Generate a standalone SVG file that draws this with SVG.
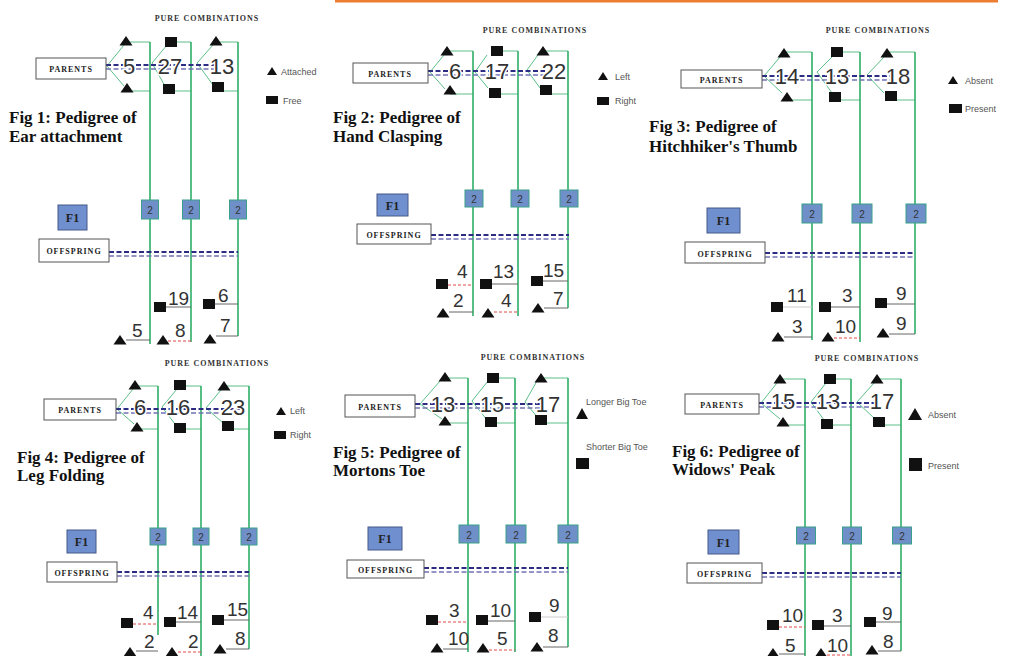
<svg xmlns="http://www.w3.org/2000/svg" xmlns:xlink="http://www.w3.org/1999/xlink" width="1014" height="656" viewBox="0 0 1014 656">
<style>
.g{stroke:#2fae68;stroke-width:1.6;fill:none}
.gt{stroke:#5cbf8a;stroke-width:1;fill:none}
.d1{stroke:#2c2c84;stroke-width:2;stroke-dasharray:5 2.5;fill:none}
.d2{stroke:#7272b4;stroke-width:1.6;stroke-dasharray:5 2.5;fill:none}
.box{fill:#fff;stroke:#555;stroke-width:1}
.lbl{font-family:"Liberation Serif",serif;font-weight:bold;font-size:8px;letter-spacing:1px;text-anchor:middle;fill:#222}
.pc{font-family:"Liberation Serif",serif;font-weight:bold;font-size:8px;letter-spacing:1px;text-anchor:middle;fill:#333}
.num{font-family:"Liberation Sans Narrow","Liberation Sans",sans-serif;font-size:22px;fill:#333;text-anchor:middle;stroke:#fff;stroke-width:3;paint-order:stroke}
.onum{font-family:"Liberation Sans Narrow","Liberation Sans",sans-serif;font-size:19px;fill:#333}
.fig{font-family:"Liberation Serif",serif;font-weight:bold;font-size:17px;fill:#111}
.leg{font-family:"Liberation Sans",sans-serif;font-size:9px;fill:#555}
.two{fill:#6f8fc9;stroke:#3aa08a;stroke-width:1}
.twot{font-family:"Liberation Sans",sans-serif;font-size:10px;fill:#333;text-anchor:middle}
.f1{fill:#6f8fcf;stroke:#46588a;stroke-width:1}
.f1t{font-family:"Liberation Serif",serif;font-weight:bold;font-size:12px;fill:#222;text-anchor:middle}
.ol{stroke:#666;stroke-width:1;fill:none}
.ll{stroke:#ccc;stroke-width:1;fill:none}
.rl{stroke:#e04848;stroke-width:1;stroke-dasharray:3 2;fill:none}
.blk{fill:#111}
</style>
<defs>
<path id="tri" d="M-6.5,4.5 L0,-5 L6.5,4.5Z" fill="#111"/>
<rect id="sq" x="-6" y="-5" width="12" height="10" fill="#111"/>
</defs>
<rect width="1014" height="656" fill="#fff"/>
<rect x="335" y="0" width="663" height="2.5" fill="#ed7d31"/>

<!-- ================= FIG 1 ================= -->
<g id="fig1-connectors">
<path class="gt" d="M126,42 H150 M171,42 H191 M216,42 H238"/>
<path class="gt" d="M127,91 H150 M169,91 H191 M218,91 H238"/>
<path class="gt" d="M124,45 L107,66 L124,86 M167,45 L152,63 L165,86 M213,45 L197,63 L213,85"/>
<path class="g" d="M150,42 V344 M191,42 V342 M238,42 V336"/>
<path class="d1" d="M106,65 H215"/><path class="d2" d="M106,69 H215"/>
<path class="d1" d="M109,252 H238"/><path class="d2" d="M109,256 H238"/>
<path class="ol" d="M166,307 H191 M126,340 H150 M215,304 H238 M216,336 H238"/>
<path class="rl" d="M168,341 H191"/>
</g>
<g id="fig1-title"><text class="pc" x="207" y="21">PURE COMBINATIONS</text>
<text class="fig" x="9" y="123">Fig 1: Pedigree of</text><text class="fig" x="9" y="142">Ear attachment</text></g>
<g id="fig1-parents"><rect class="box" x="36" y="58" width="70" height="21"/><text class="lbl" x="71" y="72">PARENTS</text></g>
<g id="fig1-pure"><use href="#tri" x="126" y="41"/><use href="#sq" x="171" y="42"/><use href="#tri" x="216" y="41"/>
<use href="#tri" x="127" y="88"/><use href="#sq" x="169" y="89"/><use href="#sq" x="218" y="87"/>
<text class="num" x="129" y="74">5</text><text class="num" x="170" y="74">27</text><text class="num" x="222" y="74">13</text></g>
<g id="fig1-legend"><polygon class="blk" points="267,75 272,67 277,75"/><text class="leg" x="281" y="75">Attached</text>
<rect class="blk" x="266" y="96" width="12" height="8"/><text class="leg" x="283" y="104">Free</text></g>
<g id="fig1-f1-counts"><rect class="two" x="141.5" y="200" width="17" height="19"/><text class="twot" x="150" y="214">2</text>
<rect class="two" x="182.5" y="200" width="17" height="19"/><text class="twot" x="191" y="214">2</text>
<rect class="two" x="229.5" y="200" width="17" height="19"/><text class="twot" x="238" y="214">2</text></g>
<g id="fig1-f1"><rect class="f1" x="58" y="205" width="29" height="25"/><text class="f1t" x="72.5" y="222">F1</text></g>
<g id="fig1-offspring"><rect class="box" x="39" y="239" width="70" height="23"/><text class="lbl" x="74" y="254">OFFSPRING</text></g>
<g id="fig1-children"><use href="#sq" x="160" y="307"/><text class="onum" x="168" y="305">19</text>
<use href="#tri" x="120" y="340"/><text class="onum" x="132" y="337">5</text>
<use href="#tri" x="163" y="340"/><text class="onum" x="175" y="337">8</text>
<use href="#sq" x="209" y="304"/><text class="onum" x="218" y="302">6</text>
<use href="#tri" x="210" y="339"/><text class="onum" x="220" y="332">7</text></g>

<!-- ================= FIG 2 ================= -->
<g id="fig2-connectors">
<path class="gt" d="M447,51 H473 M497,51 H518 M543,51 H568"/>
<path class="gt" d="M450,94 H473 M495,94 H518 M546,94 H568"/>
<path class="gt" d="M444,55 L430,72 L445,89 M487,55 L475,72 L488,88 M538,55 L527,70 L540,88"/>
<path class="g" d="M473,51 V316 M518,51 V316 M568,51 V308"/>
<path class="d1" d="M428,71 H545"/><path class="d2" d="M428,75 H545"/>
<path class="d1" d="M431,235 H569"/><path class="d2" d="M431,239 H569"/>
<path class="ol" d="M492,284 H518 M543,281 H568 M449,312 H473 M544,308 H568"/>
<path class="rl" d="M448,285 H473 M494,312 H518"/>
</g>
<g id="fig2-title"><text class="pc" x="535" y="33">PURE COMBINATIONS</text>
<text class="fig" x="333" y="123">Fig 2: Pedigree of</text><text class="fig" x="333" y="142">Hand Clasping</text></g>
<g id="fig2-parents"><rect class="box" x="353" y="63" width="75" height="20"/><text class="lbl" x="390" y="77">PARENTS</text></g>
<g id="fig2-pure"><use href="#tri" x="447" y="51"/><use href="#sq" x="497" y="51"/><use href="#tri" x="543" y="51"/>
<use href="#tri" x="450" y="90"/><use href="#sq" x="495" y="93"/><use href="#sq" x="546" y="90"/>
<text class="num" x="455" y="79">6</text><text class="num" x="497" y="79">17</text><text class="num" x="554" y="79">22</text></g>
<g id="fig2-legend"><polygon class="blk" points="598,80 603,72 608,80"/><text class="leg" x="615" y="80" font-size="8">Left</text>
<rect class="blk" x="597" y="97" width="12" height="8"/><text class="leg" x="615" y="104" font-size="8">Right</text></g>
<g id="fig2-f1-counts"><rect class="two" x="465" y="190" width="18" height="17"/><text class="twot" x="474" y="203">2</text>
<rect class="two" x="511" y="190" width="18" height="17"/><text class="twot" x="520" y="203">2</text>
<rect class="two" x="560" y="190" width="18" height="17"/><text class="twot" x="569" y="203">2</text></g>
<g id="fig2-f1"><rect class="f1" x="377" y="194" width="31" height="22"/><text class="f1t" x="392.5" y="210">F1</text></g>
<g id="fig2-offspring"><rect class="box" x="357" y="224" width="74" height="20"/><text class="lbl" x="394" y="238">OFFSPRING</text></g>
<g id="fig2-children"><use href="#sq" x="442" y="284"/><text class="onum" x="457" y="278">4</text>
<use href="#sq" x="486" y="284"/><text class="onum" x="493" y="278">13</text>
<use href="#sq" x="537" y="281"/><text class="onum" x="543" y="277">15</text>
<use href="#tri" x="443" y="313"/><text class="onum" x="453" y="307">2</text>
<use href="#tri" x="488" y="313"/><text class="onum" x="501" y="307">4</text>
<use href="#tri" x="538" y="308"/><text class="onum" x="553" y="305">7</text></g>

<!-- ================= FIG 3 ================= -->
<g id="fig3-connectors">
<path class="gt" d="M784,52 H812 M837,52 H860 M887,52 H915"/>
<path class="gt" d="M787,100 H812 M835,100 H860 M891,100 H915"/>
<path class="gt" d="M780,57 L764,76 L782,93 M833,56 L817,72 L832,93 M884,57 L867,75 L884,93"/>
<path class="g" d="M812,52 V340 M860,52 V342 M915,52 V334"/>
<path class="d1" d="M762,76 H893"/><path class="d2" d="M762,80 H893"/>
<path class="d1" d="M765,253 H915"/><path class="d2" d="M765,257 H915"/>
<path class="ol" d="M831,307 H860 M887,304 H915 M784,337 H812 M889,334 H915"/>
<path class="ll" d="M783,307 H812"/>
<path class="rl" d="M834,338 H860"/>
</g>
<g id="fig3-title"><text class="pc" x="878" y="33">PURE COMBINATIONS</text>
<text class="fig" x="649" y="132">Fig 3: Pedigree of</text><text class="fig" x="649" y="152">Hitchhiker's Thumb</text></g>
<g id="fig3-parents"><rect class="box" x="681" y="70" width="81" height="18"/><text class="lbl" x="721.5" y="83">PARENTS</text></g>
<g id="fig3-pure"><use href="#tri" x="784" y="53"/><use href="#sq" x="837" y="52"/><use href="#tri" x="887" y="53"/>
<use href="#tri" x="787" y="97"/><use href="#sq" x="835" y="97"/><use href="#sq" x="891" y="96"/>
<text class="num" x="787" y="84">14</text><text class="num" x="837" y="84">13</text><text class="num" x="898" y="84">18</text></g>
<g id="fig3-legend"><polygon class="blk" points="948,84 953,76 958,84"/><text class="leg" x="965" y="84">Absent</text>
<rect class="blk" x="949" y="104" width="13" height="9"/><text class="leg" x="965" y="112">Present</text></g>
<g id="fig3-f1-counts"><rect class="two" x="802" y="204" width="20" height="19"/><text class="twot" x="812" y="218">2</text>
<rect class="two" x="852" y="204" width="20" height="19"/><text class="twot" x="862" y="218">2</text>
<rect class="two" x="906" y="204" width="20" height="19"/><text class="twot" x="916" y="218">2</text></g>
<g id="fig3-f1"><rect class="f1" x="707" y="208" width="33" height="25"/><text class="f1t" x="723.5" y="225">F1</text></g>
<g id="fig3-offspring"><rect class="box" x="685" y="242" width="80" height="21"/><text class="lbl" x="725" y="257">OFFSPRING</text></g>
<g id="fig3-children"><use href="#sq" x="777" y="307"/><text class="onum" x="787" y="302">11</text>
<use href="#sq" x="825" y="307"/><text class="onum" x="842" y="302">3</text>
<use href="#sq" x="881" y="303"/><text class="onum" x="896" y="300">9</text>
<use href="#tri" x="778" y="337"/><text class="onum" x="792" y="333">3</text>
<use href="#tri" x="828" y="337"/><text class="onum" x="835" y="333">10</text>
<use href="#tri" x="883" y="333"/><text class="onum" x="896" y="330">9</text></g>

<!-- ================= FIG 4 ================= -->
<g id="fig4-connectors">
<path class="gt" d="M135,386 H158 M180,386 H201 M224,386 H249"/>
<path class="gt" d="M137,429 H158 M180,429 H201 M228,429 H249"/>
<path class="gt" d="M133,389 L117,409 L134,424 M177,389 L162,407 L175,424 M221,390 L206,408 L223,423"/>
<path class="g" d="M158,386 V635 M201,386 V656 M249,386 V649"/>
<path class="d1" d="M116,409 H240"/><path class="d2" d="M116,413 H240"/>
<path class="d1" d="M117,572 H249"/><path class="d2" d="M117,576 H249"/>
<path class="ol" d="M176,622 H201 M224,620 H249 M136,651 H158 M226,649 H249"/>
<path class="rl" d="M133,624 H158 M178,652 H201"/>
</g>
<g id="fig4-title"><text class="pc" x="217" y="366">PURE COMBINATIONS</text>
<text class="fig" x="17" y="463">Fig 4: Pedigree of</text><text class="fig" x="17" y="481">Leg Folding</text></g>
<g id="fig4-parents"><rect class="box" x="44" y="399" width="72" height="21"/><text class="lbl" x="80" y="413">PARENTS</text></g>
<g id="fig4-pure"><use href="#tri" x="135" y="385"/><use href="#sq" x="180" y="385"/><use href="#tri" x="224" y="386"/>
<use href="#tri" x="137" y="427"/><use href="#sq" x="180" y="428"/><use href="#sq" x="228" y="426"/>
<text class="num" x="140" y="415">6</text><text class="num" x="178" y="415">16</text><text class="num" x="233" y="415">23</text></g>
<g id="fig4-legend"><polygon class="blk" points="276,415 281,407 286,415"/><text class="leg" x="290" y="414" font-size="8">Left</text>
<rect class="blk" x="274" y="431" width="12" height="8"/><text class="leg" x="290" y="438" font-size="8">Right</text></g>
<g id="fig4-f1-counts"><rect class="two" x="150" y="528" width="16" height="17"/><text class="twot" x="158" y="541">2</text>
<rect class="two" x="193" y="528" width="16" height="17"/><text class="twot" x="201" y="541">2</text>
<rect class="two" x="241" y="528" width="16" height="17"/><text class="twot" x="249" y="541">2</text></g>
<g id="fig4-f1"><rect class="f1" x="67" y="530" width="29" height="23"/><text class="f1t" x="81.5" y="546">F1</text></g>
<g id="fig4-offspring"><rect class="box" x="47" y="562" width="70" height="20"/><text class="lbl" x="82" y="576">OFFSPRING</text></g>
<g id="fig4-children"><use href="#sq" x="127" y="623"/><text class="onum" x="143" y="619">4</text>
<use href="#sq" x="170" y="622"/><text class="onum" x="177" y="619">14</text>
<use href="#sq" x="218" y="620"/><text class="onum" x="227" y="616">15</text>
<use href="#tri" x="130" y="652"/><text class="onum" x="144" y="648">2</text>
<use href="#tri" x="172" y="652"/><text class="onum" x="188" y="648">2</text>
<use href="#tri" x="220" y="649"/><text class="onum" x="235" y="645">8</text></g>

<!-- ================= FIG 5 ================= -->
<g id="fig5-connectors">
<path class="gt" d="M445,378 H468 M493,378 H515 M541,378 H568"/>
<path class="gt" d="M445,423 H468 M491,423 H515 M541,423 H568"/>
<path class="gt" d="M440,381 L420,404 L442,419 M488,381 L472,401 L487,420 M537,381 L525,402 L538,418"/>
<path class="g" d="M468,378 V652 M515,378 V652 M568,378 V647"/>
<path class="d1" d="M415,404 H540"/><path class="d2" d="M415,408 H540"/>
<path class="d1" d="M424,568 H568"/><path class="d2" d="M424,572 H568"/>
<path class="ol" d="M488,621 H515 M443,649 H468 M543,647 H568"/>
<path class="ll" d="M541,617 H568"/>
<path class="rl" d="M438,622 H468 M489,650 H515"/>
</g>
<g id="fig5-title"><text class="pc" x="533" y="360">PURE COMBINATIONS</text>
<text class="fig" x="333" y="458">Fig 5: Pedigree of</text><text class="fig" x="333" y="476">Mortons Toe</text></g>
<g id="fig5-parents"><rect class="box" x="345" y="395" width="70" height="22"/><text class="lbl" x="380" y="410">PARENTS</text></g>
<g id="fig5-pure"><use href="#tri" x="445" y="377"/><use href="#sq" x="493" y="378"/><use href="#tri" x="541" y="378"/>
<use href="#tri" x="445" y="421"/><use href="#sq" x="491" y="422"/><use href="#sq" x="541" y="420"/>
<text class="num" x="443" y="412">13</text><text class="num" x="492" y="412">15</text><text class="num" x="548" y="412">17</text></g>
<g id="fig5-legend"><text class="leg" x="586" y="405" font-size="8.5">Longer Big Toe</text>
<polygon class="blk" points="576,419 582,408 588,419"/>
<text class="leg" x="586" y="450" font-size="8.5">Shorter Big Toe</text>
<rect class="blk" x="576" y="458" width="13" height="11"/></g>
<g id="fig5-f1-counts"><rect class="two" x="459" y="525" width="20" height="18"/><text class="twot" x="469" y="539">2</text>
<rect class="two" x="506" y="525" width="20" height="18"/><text class="twot" x="516" y="539">2</text>
<rect class="two" x="558" y="525" width="20" height="18"/><text class="twot" x="568" y="539">2</text></g>
<g id="fig5-f1"><rect class="f1" x="368" y="527" width="34" height="23"/><text class="f1t" x="385" y="543">F1</text></g>
<g id="fig5-offspring"><rect class="box" x="347" y="560" width="77" height="18"/><text class="lbl" x="385.5" y="573">OFFSPRING</text></g>
<g id="fig5-children"><use href="#sq" x="432" y="620"/><text class="onum" x="449" y="617">3</text>
<use href="#sq" x="482" y="620"/><text class="onum" x="490" y="617">10</text>
<use href="#sq" x="535" y="617"/><text class="onum" x="549" y="612">9</text>
<use href="#tri" x="437" y="648"/><text class="onum" x="448" y="645">10</text>
<use href="#tri" x="483" y="648"/><text class="onum" x="497" y="645">5</text>
<use href="#tri" x="537" y="647"/><text class="onum" x="548" y="642">8</text></g>

<!-- ================= FIG 6 ================= -->
<g id="fig6-connectors">
<path class="gt" d="M780,379 H805 M830,379 H851 M877,379 H901"/>
<path class="gt" d="M783,425 H805 M827,425 H851 M879,425 H901"/>
<path class="gt" d="M777,383 L761,403 L780,419 M826,383 L811,402 L824,420 M874,383 L857,402 L874,418"/>
<path class="g" d="M805,379 V656 M851,379 V656 M901,379 V651"/>
<path class="d1" d="M759,403 H875"/><path class="d2" d="M759,407 H875"/>
<path class="d1" d="M762,573 H901"/><path class="d2" d="M762,577 H901"/>
<path class="ol" d="M824,626 H851 M876,622 H901 M779,654 H805 M878,651 H901"/>
<path class="rl" d="M779,627 H805 M827,655 H851"/>
</g>
<g id="fig6-title"><text class="pc" x="867" y="361">PURE COMBINATIONS</text>
<text class="fig" x="672" y="457">Fig 6: Pedigree of</text><text class="fig" x="672" y="475">Widows' Peak</text></g>
<g id="fig6-parents"><rect class="box" x="685" y="394" width="74" height="20"/><text class="lbl" x="722" y="408">PARENTS</text></g>
<g id="fig6-pure"><use href="#tri" x="780" y="379"/><use href="#sq" x="830" y="379"/><use href="#tri" x="877" y="379"/>
<use href="#tri" x="783" y="422"/><use href="#sq" x="827" y="424"/><use href="#sq" x="879" y="422"/>
<text class="num" x="783" y="409">15</text><text class="num" x="828" y="409">13</text><text class="num" x="882" y="409">17</text></g>
<g id="fig6-legend"><polygon class="blk" points="908,420 915,408 922,420"/><text class="leg" x="928" y="418" font-size="11.5">Absent</text>
<rect class="blk" x="909" y="458" width="13" height="13"/><text class="leg" x="928" y="469" font-size="11.5">Present</text></g>
<g id="fig6-f1-counts"><rect class="two" x="796.5" y="527" width="19" height="17"/><text class="twot" x="806" y="540">2</text>
<rect class="two" x="842.5" y="527" width="19" height="17"/><text class="twot" x="852" y="540">2</text>
<rect class="two" x="892.5" y="527" width="19" height="17"/><text class="twot" x="902" y="540">2</text></g>
<g id="fig6-f1"><rect class="f1" x="708" y="530" width="31" height="24"/><text class="f1t" x="723.5" y="547">F1</text></g>
<g id="fig6-offspring"><rect class="box" x="687" y="563" width="75" height="20"/><text class="lbl" x="724.5" y="577">OFFSPRING</text></g>
<g id="fig6-children"><use href="#sq" x="773" y="625"/><text class="onum" x="782" y="622">10</text>
<use href="#sq" x="818" y="625"/><text class="onum" x="832" y="622">3</text>
<use href="#sq" x="870" y="622"/><text class="onum" x="882" y="620">9</text>
<use href="#tri" x="773" y="653"/><text class="onum" x="785" y="652">5</text>
<use href="#tri" x="821" y="653"/><text class="onum" x="827" y="652">10</text>
<use href="#tri" x="872" y="650"/><text class="onum" x="883" y="648">8</text></g>
</svg>
